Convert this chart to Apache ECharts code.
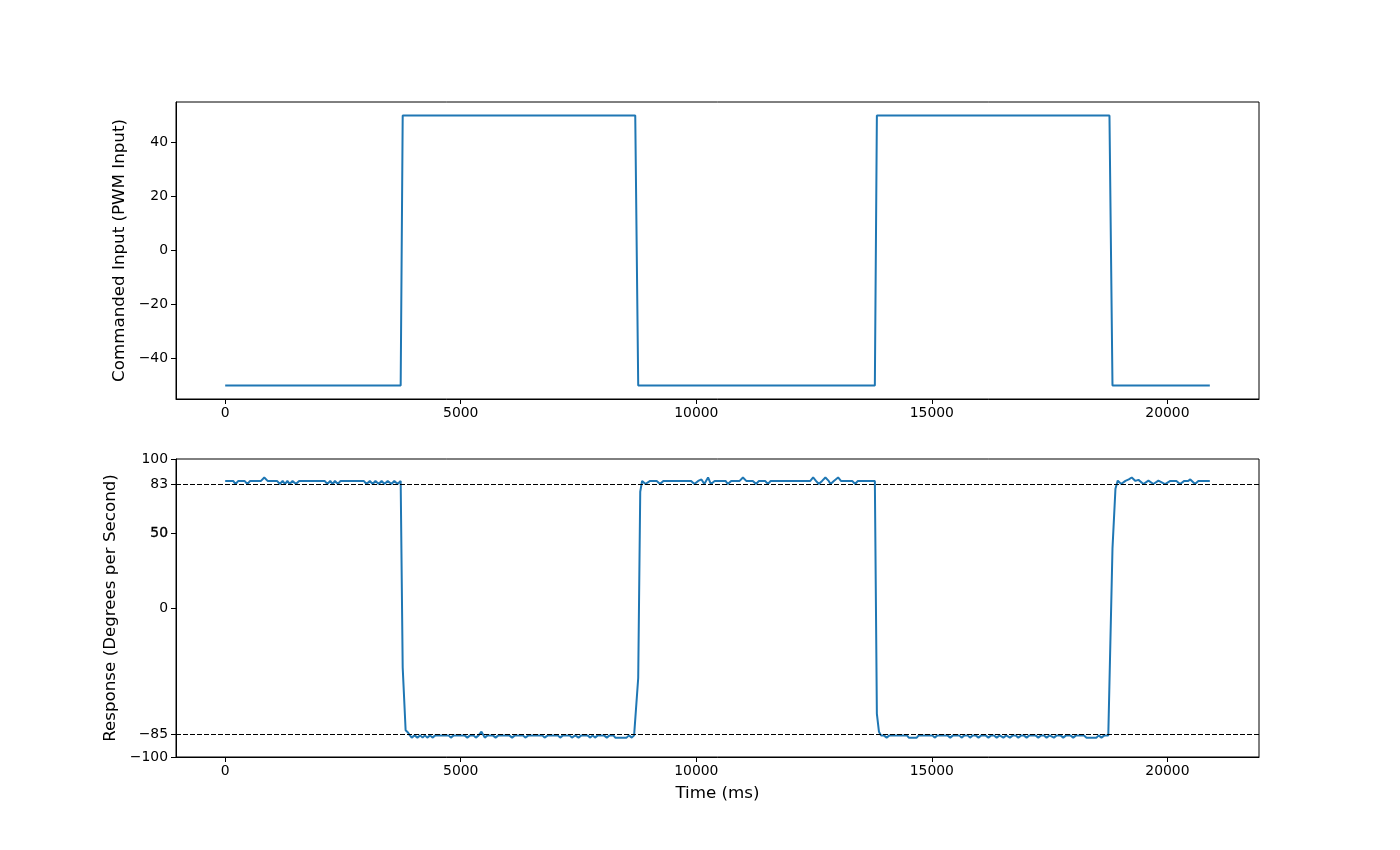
<!DOCTYPE html>
<html>
<head>
<meta charset="utf-8">
<script src="https://cdn.jsdelivr.net/npm/echarts@6/dist/echarts.min.js"></script>
<style>
html,body{margin:0;padding:0;background:#fff;}
#chart{width:1400px;height:850px;}
</style>
</head>
<body>
<div id="chart"></div>
<script>
// Commanded input (PWM) breakpoints
const cmdTime  = [0, 3725, 3768, 8704, 8767, 13790, 13833, 18770, 18834, 20900];
const cmdValue = [-50, -50, 50, 50, -50, -50, 50, 50, -50, -50];

// Measured response (deg/s)
const respTime = [
  0,170,220,280,410,470,530,760,830,900,1100,1160,1220,1270,1320,1370,1430,1500,1570,2110,2170,2230,2280,2330,2390,2450,2940,3000,3070,3130,3190,3260,3320,3380,3450,3530,3590,3660,3725,
  3768,3830,3880,
  3920,3960,4020,4080,4140,4190,4240,4290,4350,4400,4460,4740,4790,4850,5080,5140,5200,5270,5320,5380,5440,5510,5570,5680,5740,5800,6030,6090,6150,6320,6370,6440,6730,6780,6850,7060,7110,7170,7310,7360,7430,7500,7560,7690,7750,7800,7850,7910,8040,8100,8160,8240,8280,8520,8570,8630,8680,
  8704,8767,8810,8850,8920,9020,9160,9230,9300,9890,9960,10040,10110,10170,10250,10310,10390,10620,10670,10740,10920,10990,11060,11200,11270,11330,11460,11520,11580,12420,12480,12540,12600,12670,12740,12810,12850,12920,13010,13070,13310,13370,13430,13790,
  13833,13877,13920,13980,14040,14100,14470,14510,14680,14720,15010,15060,15120,15330,15390,15450,15580,15630,15690,15760,15810,15870,15930,15990,16050,16140,16200,16260,16320,16376,16440,16470,16518,16580,16610,16657,16720,16780,16835,16900,16950,17011,17070,17200,17259,17320,17380,17435,17500,17540,17590,17650,17730,17789,17850,17940,18001,18060,18230,18283,18495,18540,18600,18663,18745,
  18770,18834,18897,18946,19018,19109,19180,19243,19321,19385,19491,19597,19703,19809,19950,20063,20190,20268,20359,20443,20486,20586,20657,20900
];
const respValue = [
  85.3,85.3,83.2,85.3,85.3,83.2,85.3,85.3,87.6,85.3,85.3,83.2,85.3,83.2,85.3,83.2,85.3,83.2,85.3,85.3,83.2,85.3,83.2,85.3,83.2,85.3,85.3,83.2,85.3,83.2,85.3,83.2,85.3,83.2,85.3,83.2,85.3,83.2,85.3,
  -40,-82,-83.5,
  -85.5,-87,-85.5,-87,-85.5,-87,-85.5,-87,-85.5,-87,-85.5,-85.5,-87,-85.5,-85.5,-87,-85.5,-85.5,-87,-85.5,-83,-87,-85.5,-85.5,-87,-85.5,-85.5,-87,-85.5,-85.5,-87,-85.5,-85.5,-87,-85.5,-85.5,-87,-85.5,-85.5,-87,-85.5,-87,-85.5,-85.5,-87,-85.5,-87,-85.5,-85.5,-87,-85.5,-85.5,-87,-87,-85.5,-87,-85.5,
  -86,-47,78,85.3,83.2,85.3,85.3,83.2,85.3,85.3,83.2,85.3,86.3,83.2,87.6,83.2,85.3,85.3,83.2,85.3,85.3,87.6,85.3,85.3,83.2,85.3,85.3,83.2,85.3,85.3,87.6,85.3,83.2,85.3,87.6,85.3,83.2,85.3,87.6,85.3,85.3,83.2,85.3,85.3,
  -71,-83,-85.5,-85.5,-87,-85.5,-85.5,-87,-87,-85.5,-85.5,-87,-85.5,-85.5,-87,-85.5,-85.5,-87,-85.5,-85.5,-87,-85.5,-85.5,-87,-85.5,-85.5,-87,-85.5,-85.5,-87,-85.5,-85.5,-87,-85.5,-85.5,-87,-85.5,-85.5,-87,-85.5,-85.5,-87,-85.5,-85.5,-87,-85.5,-85.5,-87,-85.5,-85.5,-87,-85.5,-85.5,-87,-85.5,-85.5,-87,-85.5,-85.5,-87,-87,-85.5,-87,-85.5,-85.5,
  -86,40,80,85.5,83.2,85.3,86.3,87.6,85.3,86,83.2,85.5,83.2,85.5,83.2,85.3,85.3,83.2,85.3,85.3,86.3,83.2,85.3,85.3
];

const xTicks = [0, 5000, 10000, 15000, 20000];
const topYTicks = [-40, -20, 0, 20, 40];
const botYTicks = [-100, -85, 0, 50, 83, 100];
const boldTick = 50;   // drawn twice in the reference, so it looks heavier
const refLines = [83, -85];

const FONT = 'DejaVu Sans';
const fmt = v => String(v).replace('-', '\u2212');
const zip = (a, b) => a.map((t, i) => [t, b[i]]);

const labelStyle = {color:'#000', fontSize:13.9, fontFamily:FONT, formatter: fmt};
function xAx(idx, extra) {
  return Object.assign({
    gridIndex: idx, type:'value', min:-1044, max:21944,
    splitLine:{show:false},
    axisLine:{show:true, onZero:false, lineStyle:{color:'#000', width:1}},
    axisTick:{show:true, customValues:xTicks, length:5, lineStyle:{color:'#000', width:1}},
    axisLabel:Object.assign({customValues:xTicks, margin:7}, labelStyle)
  }, extra || {});
}
function yAx(idx, min, max, ticks, name, gap, extraLabel) {
  return {
    gridIndex: idx, type:'value', min:min, max:max,
    name:name, nameLocation:'middle', nameGap:gap,
    nameTextStyle:{color:'#000', fontSize:16.7, fontFamily:FONT},
    splitLine:{show:false},
    axisLine:{show:true, onZero:false, lineStyle:{color:'#000', width:1}},
    axisTick:{show:true, customValues:ticks, length:5, lineStyle:{color:'#000', width:1}},
    axisLabel:Object.assign({customValues:ticks, margin:8}, labelStyle, extraLabel || {})
  };
}

const chart = echarts.init(document.getElementById('chart'), null, {renderer:'canvas'});
chart.setOption({
  animation:false,
  backgroundColor:'#fff',
  grid:[
    {left:176, top:102, width:1083, height:297, show:true, borderColor:'#000', borderWidth:1, backgroundColor:'transparent'},
    {left:176, top:459, width:1083, height:298, show:true, borderColor:'#000', borderWidth:1, backgroundColor:'transparent'}
  ],
  xAxis:[
    xAx(0),
    xAx(1, {name:'Time (ms)', nameLocation:'middle', nameGap:28,
            nameTextStyle:{color:'#000', fontSize:16.7, fontFamily:FONT}})
  ],
  yAxis:[
    yAx(0, -55, 55, topYTicks, 'Commanded Input (PWM Input)', 44),
    yAx(1, -100, 100, botYTicks, 'Response (Degrees per Second)', 53, {
      formatter: v => v === boldTick ? '{b|' + fmt(v) + '}' : fmt(v),
      rich: {b: {color:'#000', fontSize:13.9, fontFamily:FONT, textBorderColor:'#000', textBorderWidth:0.35}}
    })
  ],
  series:[
    {type:'line', xAxisIndex:0, yAxisIndex:0, data:zip(cmdTime, cmdValue),
     showSymbol:false, symbol:'none', lineStyle:{color:'#1f77b4', width:2}, itemStyle:{color:'#1f77b4'}},
    {type:'line', xAxisIndex:1, yAxisIndex:1, data:zip(respTime, respValue),
     showSymbol:false, symbol:'none', lineStyle:{color:'#1f77b4', width:2}, itemStyle:{color:'#1f77b4'},
     markLine:{silent:true, symbol:['none','none'], label:{show:false},
       lineStyle:{color:'#000', type:[5,2], width:1},
       data: refLines.map(v => ({yAxis:v}))}}
  ]
});
</script>
</body>
</html>
